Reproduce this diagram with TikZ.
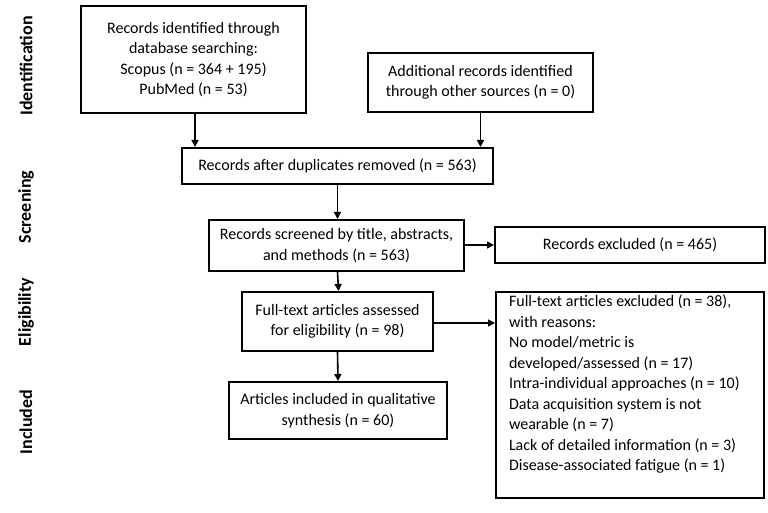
\documentclass[tikz,border=0pt]{standalone}
\usepackage{fontspec}
\setmainfont{Carlito}
\usetikzlibrary{arrows.meta}
\begin{document}
\begin{tikzpicture}[x=1pt,y=-1pt,
  box/.style={draw, line width=2pt, align=center, inner sep=0pt, font=\fontsize{16}{20.5}\selectfont},
  arr/.style={line width=1.6pt, -{Triangle[length=7pt,width=7pt]}},
  side/.style={rotate=90, font=\fontsize{18}{20}\selectfont\bfseries}]
\useasboundingbox (0,0) rectangle (768,513);
\fill[white] (0,0) rectangle (768,513);
\node[box, minimum width=225pt, minimum height=107pt] (b1) at (193.5,59.5)
  {Records identified through\\database searching:\\Scopus (n = 364 + 195)\\PubMed (n = 53)};
\node[box, minimum width=225pt, minimum height=59pt] (b2) at (480.5,82.5)
  {Additional records identified\\through other sources (n = 0)};
\node[box, minimum width=311pt, minimum height=36pt] (b3) at (337.5,166)
  {Records after duplicates removed (n = 563)};
\node[box, minimum width=255pt, minimum height=51pt] (b4) at (336.5,245.5)
  {Records screened by title, abstracts,\\and methods (n = 563)};
\node[box, minimum width=270pt, minimum height=36pt] (b5) at (630,245)
  {Records excluded (n = 465)};
\node[box, minimum width=191pt, minimum height=59pt] (b6) at (337.5,321.5)
  {Full-text articles assessed\\for eligibility (n = 98)};
\node[box, minimum width=268pt, minimum height=206pt] (b7) at (630,395) {};
\node[box, draw=none, anchor=north west, align=left] (b7t) at (508,294)
  {Full-text articles excluded (n = 38),\\with reasons:\\No model/metric is\\developed/assessed (n = 17)\\Intra-individual approaches (n = 10)\\Data acquisition system is not\\wearable (n = 7)\\Lack of detailed information (n = 3)\\Disease-associated fatigue (n = 1)};
\node[box, minimum width=218pt, minimum height=57pt] (b8) at (338,410.5)
  {Articles included in qualitative\\synthesis (n = 60)};
\node[side] (s1) at (26,66) {Identification};
\node[side] (s2) at (26,207) {Screening};
\node[side] (s3) at (26,312) {Eligibility};
\node[side] (s4) at (26,422) {Included};
\draw[arr] ([xshift=1.5pt]b1.south) -- ([xshift=1.5pt]b1.south |- b3.north);
\draw[arr] (b2.south) -- (b2.south |- b3.north);
\draw[arr] ([xshift=1pt]b4.north |- b3.south) -- ([xshift=1pt]b4.north);
\draw[arr] (b4.east |- b5.west) -- (b5.west);
\draw[arr] ([xshift=1pt]b4.south) -- ([xshift=1pt]b6.north);
\draw[arr] ([yshift=-1.5pt]b6.east) -- ([yshift=-1.5pt]b6.east -| b7.west);
\draw[arr] (b6.south) -- (b8.north);
\end{tikzpicture}
\end{document}
